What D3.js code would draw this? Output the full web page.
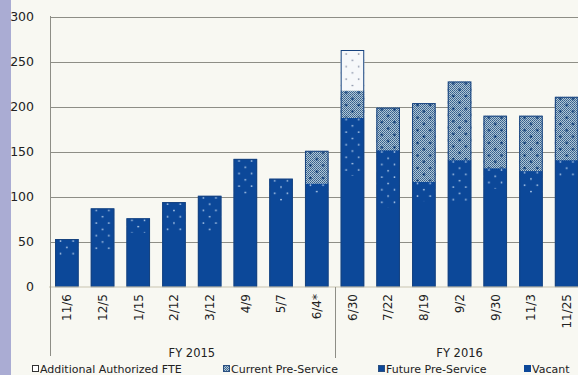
<!DOCTYPE html>
<html><head><meta charset="utf-8">
<script src="https://cdn.jsdelivr.net/npm/d3@7"></script>
<style>body{margin:0;background:#F8F8F2;overflow:hidden} svg{display:block}</style>
</head><body><svg id="c" width="578" height="375"></svg>
<script>
const categories = ["11/6","12/5","1/15","2/12","3/12","4/9","5/7","6/4*","6/30","7/22","8/19","9/2","9/30","11/3","11/25"];
const vacant            = [32,39,60,60,60,102,94,102,123,88,95,95,109,102,123];
const futurePreService  = [21,48,16,34,41,40,26,13,65,64,22,46,23,27,18];
const currentPreService = [0,0,0,0,0,0,0,36,30,47,87,87,58,61,70];
const additionalFTE     = [0,0,0,0,0,0,0,0,45,0,0,0,0,0,0];
const seriesNames = ["Additional Authorized FTE","Current Pre-Service","Future Pre-Service","Vacant"];
const yTicks = [0,50,100,150,200,250,300];
const fiscalYears = ["FY 2015","FY 2016"];
const fiscalStart = [0,8];
const fiscalEnd = [7,14];

const svg = d3.select("#c");
const W = 578, H = 375;
const BLUE = "#0C4899", GRID = "#8E8E86", TXT = "#222";
svg.append("rect").attr("width",W).attr("height",H).attr("fill","#F8F8F2");
svg.append("rect").attr("width",11).attr("height",H).attr("fill","#AAACD3");

const step = 35.7, x0 = 49;
const x = d3.scaleBand().domain(categories).range([x0, x0 + step*categories.length]).paddingInner(0.34).paddingOuter(0.17);
const y = d3.scaleLinear().domain([0,300]).range([286.7,16.7]);

const data = categories.map((c,i)=>({cat:c, vacant:vacant[i], future:futurePreService[i], current:currentPreService[i], additional:additionalFTE[i]}));
const keys = ["vacant","future","current","additional"];
const stack = d3.stack().keys(keys)(data);

const defs = svg.append("defs");
const pc = defs.append("pattern").attr("id","checker").attr("patternUnits","userSpaceOnUse").attr("width",2).attr("height",2);
pc.append("rect").attr("width",2).attr("height",2).attr("fill","#B2C6D4");
pc.append("rect").attr("width",1).attr("height",1).attr("fill","#355F8C");
pc.append("rect").attr("x",1).attr("y",1).attr("width",1).attr("height",1).attr("fill","#44709C");
function dotPattern(id, cx, top, color, r){
  const p = defs.append("pattern").attr("id",id).attr("patternUnits","userSpaceOnUse")
    .attr("width",12.6).attr("height",12.6).attr("patternTransform",`translate(${cx},${top})`);
  p.append("circle").attr("cx",6.3).attr("cy",2).attr("r",r).attr("fill",color);
  p.append("circle").attr("cx",0).attr("cy",8.3).attr("r",r).attr("fill",color);
  p.append("circle").attr("cx",12.6).attr("cy",8.3).attr("r",r).attr("fill",color);
}

svg.append("g").selectAll("line").data(yTicks.filter(t=>t>0)).join("line")
  .attr("x1",x0+1).attr("x2",W).attr("y1",d=>Math.round(y(d))+0.5).attr("y2",d=>Math.round(y(d))+0.5)
  .attr("stroke",GRID).attr("stroke-width",1);
svg.append("g").selectAll("text").data(yTicks).join("text")
  .attr("x",34).attr("y",d=>y(d)).attr("dy","0.36em").attr("text-anchor","end")
  .attr("font-family","DejaVu Sans").attr("font-size",12.5).attr("fill",TXT).text(d=>d);

const g = svg.append("g");
data.forEach((d,i)=>{
  const cx = x(d.cat) + x.bandwidth()/2;
  const bx = x(d.cat), bw = x.bandwidth();
  const sV = stack[0][i], sF = stack[1][i], sC = stack[2][i], sA = stack[3][i];
  // solid blue base covering vacant + future (no seam)
  g.append("rect").attr("x",bx).attr("width",bw).attr("y",y(sF[1])).attr("height",y(0)-y(sF[1])).attr("fill",BLUE);
  if (d.future>0){
    dotPattern("fut"+i, cx, y(sF[1]), "#B8D0EC", 0.9);
    g.append("rect").attr("x",bx).attr("width",bw).attr("y",y(sF[1])).attr("height",y(sF[0])-y(sF[1])).attr("fill","url(#fut"+i+")");
  }
  if (d.current>0){
    dotPattern("cur"+i, cx, y(sC[1]), "#123F78", 1.3);
    g.append("rect").attr("x",bx).attr("width",bw).attr("y",y(sC[1])).attr("height",y(sC[0])-y(sC[1])+0.5).attr("fill","url(#checker)");
    g.append("rect").attr("x",bx).attr("width",bw).attr("y",y(sC[1])).attr("height",y(sC[0])-y(sC[1])).attr("fill","url(#cur"+i+")");
  }
  if (d.additional>0){
    dotPattern("add"+i, cx, y(sA[1])+2, "#6A7690", 0.8);
    g.append("rect").attr("x",bx).attr("width",bw).attr("y",y(sA[1])).attr("height",y(sA[0])-y(sA[1])).attr("fill","#F6F8FA");
    g.append("rect").attr("x",bx).attr("width",bw).attr("y",y(sA[1])).attr("height",y(sA[0])-y(sA[1])).attr("fill","url(#add"+i+")");
  }
  const top = y(sA[1]);
  g.append("rect").attr("x",bx+0.5).attr("width",bw-1).attr("y",top+0.5).attr("height",y(0)-top-0.5)
    .attr("fill","none").attr("stroke","#17437F").attr("stroke-width",1);
});

svg.append("line").attr("x1",x0).attr("x2",W).attr("y1",287).attr("y2",287).attr("stroke","#C9C4B0").attr("stroke-width",1);
svg.append("line").attr("x1",50.5).attr("x2",50.5).attr("y1",16).attr("y2",356).attr("stroke",GRID).attr("stroke-width",1);
fiscalStart.slice(1).forEach(s=>{
  const sx = Math.round(x0 + step*s)+0.5;
  svg.append("line").attr("x1",sx).attr("x2",sx).attr("y1",287).attr("y2",358).attr("stroke",GRID).attr("stroke-width",1);
});
svg.append("g").selectAll("text").data(categories).join("text")
  .attr("transform",d=>`translate(${x(d)+x.bandwidth()/2},294) rotate(-90)`)
  .attr("text-anchor","end").attr("dy","0.36em")
  .attr("font-family","DejaVu Sans").attr("font-size",12).attr("fill",TXT).text(d=>d);
svg.append("g").selectAll("text").data(fiscalYears).join("text")
  .attr("x",(d,i)=>(x0+step*fiscalStart[i] + x0+step*(fiscalEnd[i]+1))/2)
  .attr("y",357).attr("text-anchor","middle")
  .attr("font-family","DejaVu Sans").attr("font-size",11.5).attr("fill",TXT).text(d=>d);

const legX = [32,223,378,524];
const leg = svg.append("g").selectAll("g").data(seriesNames).join("g").attr("transform",(d,i)=>`translate(${legX[i]},365)`);
leg.append("rect").attr("x",0.5).attr("y",0.5).attr("width",6).attr("height",6)
  .attr("fill",(d,i)=>["#FFFFFF","url(#checker)",BLUE,BLUE][i]).attr("stroke",(d,i)=>["#333","#2B4F80","#2B4F80",BLUE][i]).attr("stroke-width",1);
leg.append("text").attr("x",8).attr("y",7.5).attr("font-family","DejaVu Sans").attr("font-size",11).attr("fill",TXT).text(d=>d);
</script></body></html>
